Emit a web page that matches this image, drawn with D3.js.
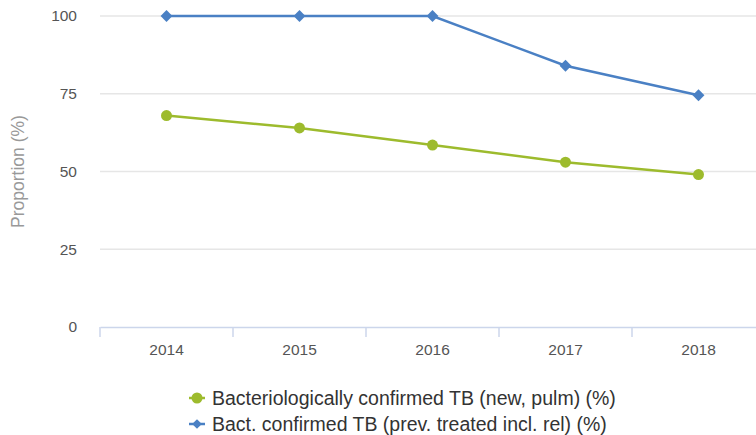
<!DOCTYPE html>
<html>
<head>
<meta charset="utf-8">
<script src="https://cdn.jsdelivr.net/npm/d3@7"></script>
<style>
  body { margin: 0; background: #fff; }
  svg { font-family: "Liberation Sans", Arial, sans-serif; }
</style>
</head>
<body>
<svg id="chart" width="756" height="435"></svg>
<script>
// data
var years = ["2014", "2015", "2016", "2017", "2018"];
var newPulm = [68, 64, 58.5, 53, 49];
var prevTreated = [100, 100, 100, 84, 74.5];
var yTicks = [0, 25, 50, 75, 100];
var seriesNames = ["Bacteriologically confirmed TB (new, pulm) (%)",
                   "Bact. confirmed TB (prev. treated incl. rel) (%)"];

var svg = d3.select("#chart");

var x = d3.scaleBand().domain(years).range([100, 765]);
var y = d3.scaleLinear().domain([0, 100]).range([327, 16]);

// gridlines
svg.append("g")
  .selectAll("line")
  .data(yTicks.filter(function(d) { return d > 0; }))
  .enter().append("line")
    .attr("x1", 100).attr("x2", 756)
    .attr("y1", function(d) { return y(d); })
    .attr("y2", function(d) { return y(d); })
    .attr("stroke", "#e6e6e6")
    .attr("stroke-width", 1.5);

// y axis labels
svg.append("g")
  .selectAll("text")
  .data(yTicks)
  .enter().append("text")
    .attr("x", 77)
    .attr("y", function(d) { return y(d); })
    .attr("dy", "0.35em")
    .attr("text-anchor", "end")
    .attr("fill", "#555")
    .style("font-size", "15.5px")
    .text(function(d) { return d; });

svg.append("text")
  .attr("transform", "translate(24," + y(50) + ") rotate(-90)")
  .attr("text-anchor", "middle")
  .attr("fill", "#999")
  .style("font-size", "17.5px")
  .text("Proportion (%)");

// x axis
var xAxis = svg.append("g")
  .attr("transform", "translate(0," + y(0) + ")")
  .call(d3.axisBottom(x).tickSize(0).tickPadding(17));
xAxis.select(".domain").attr("stroke", "#ccd6eb").attr("stroke-width", 1.5);
xAxis.selectAll("text").attr("fill", "#555").style("font-size", "15.5px")
  .style("font-family", "'Liberation Sans', Arial, sans-serif");

// tick marks at band edges
var edges = years.map(function(d) { return x(d); });
svg.append("g")
  .selectAll("line")
  .data(edges)
  .enter().append("line")
    .attr("x1", function(d) { return d; })
    .attr("x2", function(d) { return d; })
    .attr("y1", y(0)).attr("y2", y(0) + 10)
    .attr("stroke", "#ccd6eb")
    .attr("stroke-width", 1.5);

function cx(i) { return x(years[i]) + x.bandwidth() / 2; }

var line = d3.line()
  .x(function(d, i) { return cx(i); })
  .y(function(d) { return y(d); });

var green = "#9dbb2d", blue = "#4a80c4";

svg.append("path").datum(prevTreated)
  .attr("d", line).attr("fill", "none")
  .attr("stroke", blue).attr("stroke-width", 2.5);

svg.append("path").datum(newPulm)
  .attr("d", line).attr("fill", "none")
  .attr("stroke", green).attr("stroke-width", 2.5);

svg.append("g").selectAll("circle")
  .data(newPulm).enter().append("circle")
    .attr("cx", function(d, i) { return cx(i); })
    .attr("cy", function(d) { return y(d); })
    .attr("r", 5.5)
    .attr("fill", green);

var diamond = d3.symbol().type(d3.symbolDiamond2).size(90);
svg.append("g").selectAll("path")
  .data(prevTreated).enter().append("path")
    .attr("d", diamond)
    .attr("transform", function(d, i) { return "translate(" + cx(i) + "," + y(d) + ")"; })
    .attr("fill", blue);

// legend
var legend = svg.append("g");
var lg = legend.selectAll("g").data(seriesNames).enter().append("g")
  .attr("transform", function(d, i) { return "translate(197," + (398 + i * 26) + ")"; });
lg.append("line")
  .attr("x1", -8).attr("x2", 8)
  .attr("stroke", function(d, i) { return i === 0 ? green : blue; })
  .attr("stroke-width", 2.5);
lg.append("path")
  .attr("d", function(d, i) {
    return i === 0 ? d3.symbol().type(d3.symbolCircle).size(95)()
                   : d3.symbol().type(d3.symbolDiamond2).size(60)();
  })
  .attr("fill", function(d, i) { return i === 0 ? green : blue; });
lg.append("text")
  .attr("x", 15)
  .attr("dy", "0.35em")
  .attr("fill", "#333")
  .style("font-size", "19.5px")
  .text(function(d) { return d; });
</script>
</body>
</html>
